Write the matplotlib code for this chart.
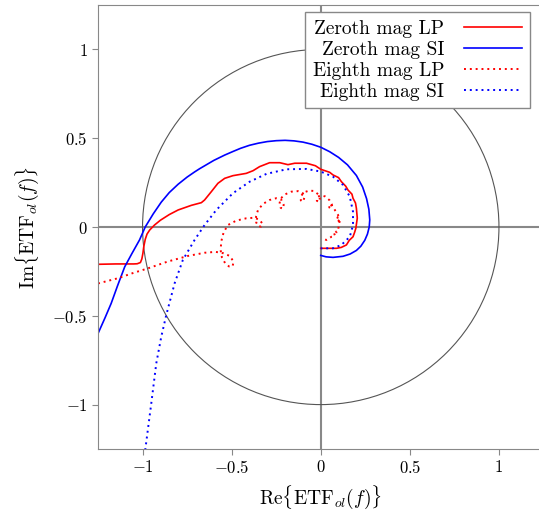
import matplotlib
matplotlib.use("Agg")
import matplotlib.pyplot as plt
import matplotlib.patches as mpatches

plt.rcParams['font.family'] = 'serif'
plt.rcParams['font.serif'] = ['cmr10', 'DejaVu Serif']
plt.rcParams['mathtext.fontset'] = 'cm'
plt.rcParams['axes.formatter.use_mathtext'] = True

# Zeroth mag, LP controller
lp0_re = [-1.25, -1.15, -1.05, -1.03, -1.012, -1.004, -0.998, -0.993, -0.985, -0.975,
          -0.96, -0.933, -0.90, -0.85, -0.80, -0.726, -0.67, -0.652, -0.614, -0.577,
          -0.539, -0.493, -0.418, -0.38, -0.343, -0.287, -0.23, -0.184, -0.146, -0.08,
          -0.03, 0.0, 0.05, 0.069, 0.10, 0.116, 0.14, 0.153, 0.175, 0.181,
          0.195, 0.2, 0.205, 0.197, 0.19, 0.181, 0.16, 0.144, 0.115, 0.088,
          0.04, 0.0]
lp0_im = [-0.21, -0.208, -0.208, -0.207, -0.2, -0.18, -0.148, -0.11, -0.07, -0.04,
          -0.017, 0.011, 0.038, 0.07, 0.096, 0.122, 0.137, 0.152, 0.199, 0.246,
          0.274, 0.289, 0.302, 0.317, 0.34, 0.362, 0.362, 0.351, 0.359, 0.359,
          0.345, 0.325, 0.308, 0.293, 0.278, 0.255, 0.23, 0.208, 0.185, 0.162,
          0.135, 0.105, 0.05, -0.007, -0.03, -0.055, -0.075, -0.101, -0.115, -0.12,
          -0.12, -0.12]

# Zeroth mag, SI controller
si0_re = [-1.25, -1.21, -1.176, -1.14, -1.10, -1.06, -1.017, -0.985, -0.94, -0.895,
          -0.85, -0.80, -0.75, -0.708, -0.68, -0.60, -0.539, -0.493, -0.45, -0.40,
          -0.35, -0.30, -0.25, -0.20, -0.15, -0.10, -0.05, 0.0, 0.05, 0.10,
          0.15, 0.20, 0.235, 0.257, 0.27, 0.275, 0.272, 0.262, 0.247, 0.225,
          0.20, 0.165, 0.125, 0.069, 0.03, 0.0]
si0_im = [-0.60, -0.51, -0.43, -0.33, -0.224, -0.15, -0.073, 0.0, 0.074, 0.14,
          0.194, 0.241, 0.281, 0.31, 0.328, 0.375, 0.405, 0.425, 0.443, 0.46,
          0.472, 0.481, 0.486, 0.488, 0.485, 0.478, 0.466, 0.449, 0.424, 0.392,
          0.35, 0.29, 0.225, 0.16, 0.10, 0.04, 0.0, -0.04, -0.075, -0.108,
          -0.132, -0.152, -0.165, -0.171, -0.168, -0.16]

# Eighth mag, LP controller
lp8_re = [-1.25, -1.14, -1.05, -0.97, -0.86, -0.745, -0.652, -0.59,
          -0.545, -0.511, -0.489, -0.495, -0.515, -0.537, -0.555, -0.562, -0.558, -0.545,
          -0.521, -0.474, -0.418, -0.375,
          -0.345, -0.328, -0.335, -0.35, -0.362, -0.363, -0.352, -0.324, -0.287, -0.25,
          -0.222, -0.208, -0.212, -0.225, -0.232, -0.225, -0.202, -0.165, -0.128,
          -0.1, -0.092, -0.1, -0.112, -0.11, -0.095, -0.065, -0.04, -0.015,
          -0.005, -0.01, -0.022, -0.018, 0.0, 0.025, 0.05,
          0.062, 0.058, 0.048, 0.05, 0.065, 0.079, 0.097,
          0.104, 0.098, 0.09, 0.095, 0.107, 0.104, 0.097,
          0.09, 0.078, 0.075, 0.08, 0.06, 0.032, 0.009]
lp8_im = [-0.318, -0.289, -0.258, -0.233, -0.195, -0.163, -0.145, -0.14,
          -0.148, -0.163, -0.195, -0.222, -0.222, -0.203, -0.17, -0.13, -0.08, -0.03,
          0.011, 0.036, 0.049, 0.052,
          0.042, 0.02, 0.002, 0.005, 0.025, 0.06, 0.096, 0.13, 0.152, 0.162,
          0.155, 0.125, 0.103, 0.108, 0.13, 0.16, 0.183, 0.199, 0.202,
          0.19, 0.165, 0.142, 0.15, 0.175, 0.195, 0.205, 0.203, 0.185,
          0.16, 0.14, 0.148, 0.17, 0.178, 0.172, 0.15,
          0.128, 0.105, 0.11, 0.13, 0.118, 0.096, 0.068,
          0.045, 0.03, 0.04, 0.055, 0.04, 0.021, -0.017,
          -0.03, -0.02, -0.035, -0.05, -0.055, -0.073, -0.064]

# Eighth mag, SI controller
si8_re = [-0.985, -0.951, -0.923, -0.895, -0.867, -0.82, -0.774, -0.708, -0.652, -0.586,
          -0.493, -0.399, -0.305, -0.193, -0.08, 0.0, 0.069, 0.125, 0.163, 0.181,
          0.181, 0.163, 0.116, 0.069, 0.0]
si8_im = [-1.256, -0.993, -0.768, -0.618, -0.496, -0.317, -0.186, -0.073, 0.011, 0.096,
          0.19, 0.255, 0.299, 0.325, 0.327, 0.312, 0.283, 0.237, 0.171, 0.086,
          0.011, -0.055, -0.101, -0.12, -0.12]

ticks = [-1, -0.5, 0, 0.5, 1]
tick_labels = ['$-1$', '$-0.5$', '$0$', '$0.5$', '$1$']

fig = plt.figure(figsize=(5.39, 5.15), dpi=100)
ax = fig.add_axes([98 / 539, 66 / 515, 445.5 / 539, 444 / 515])

ax.axhline(0, color='#888888', lw=1.5, zorder=1)
ax.axvline(0, color='#888888', lw=1.5, zorder=1)
ax.add_patch(mpatches.Circle((0, 0), 1, fill=False, ec='#555555', lw=0.8, zorder=1))

ax.plot(lp0_re, lp0_im, color='#ff0000', lw=1.2, label='Zeroth mag LP')
ax.plot(si0_re, si0_im, color='#0000ff', lw=1.2, label='Zeroth mag SI')
ax.plot(lp8_re, lp8_im, color='#ff0000', lw=1.4, ls=(0, (1, 2)), label='Eighth mag LP')
ax.plot(si8_re, si8_im, color='#0000ff', lw=1.4, ls=(0, (1, 2)), label='Eighth mag SI')

ax.set_xlim(-1.25, 1.25)
ax.set_ylim(-1.25, 1.25)
ax.set_xticks(ticks)
ax.set_yticks(ticks)
ax.set_xticklabels(tick_labels)
ax.set_yticklabels(tick_labels)
ax.tick_params(labelsize=12, color='#888888', length=4, direction='out')
for s in ax.spines.values():
    s.set_color('#888888')
ax.set_xlabel(r'$\mathrm{Re}\{\mathrm{ETF}_{ol}(f)\}$', fontsize=14, labelpad=5)
ax.set_ylabel(r'$\mathrm{Im}\{\mathrm{ETF}_{ol}(f)\}$', fontsize=14, labelpad=8)

leg = ax.legend(loc='upper right', bbox_to_anchor=(432 / 445.5, 437 / 444),
                borderaxespad=0, fontsize=14, markerfirst=False, fancybox=False,
                framealpha=1, edgecolor='#888888', handlelength=3.0,
                handletextpad=1.0, labelspacing=0.15)
leg.get_frame().set_linewidth(1.0)

fig.savefig('out.png', dpi=100)
